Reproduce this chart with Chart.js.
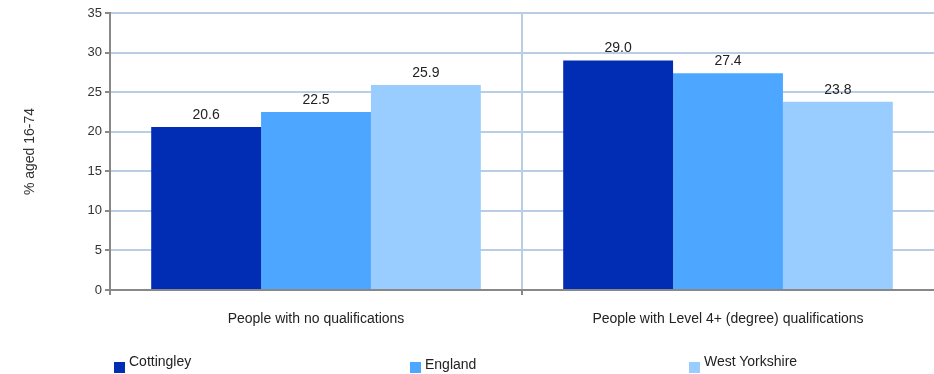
<!DOCTYPE html>
<html>
<head>
<meta charset="utf-8">
<script src="https://cdn.jsdelivr.net/npm/chart.js@4"></script>
<style>
  body { margin: 0; background: #fff; font-family: "Liberation Sans", Arial, sans-serif; }
  #wrap { position: relative; width: 934px; height: 374px; }
  .legend-item { position: absolute; font-size: 14px; color: #222; }
  .legend-box { position: absolute; width: 11px; height: 11px; }
</style>
</head>
<body>
<div id="wrap">
  <canvas id="chart" width="934" height="374"></canvas>
</div>
<script>
// Chart data
const categories = ['People with no qualifications', 'People with Level 4+ (degree) qualifications'];
const seriesNames = ['Cottingley', 'England', 'West Yorkshire'];
const seriesColors = ['#002db3', '#4da6ff', '#99ccff'];
const cottingley = [20.6, 29.0];
const england = [22.5, 27.4];
const westYorkshire = [25.9, 23.8];
const yTicks = [0, 5, 10, 15, 20, 25, 30, 35];

// legend box left x in the page
const legendX = [114, 410, 689];

const seriesValues = [cottingley, england, westYorkshire];
const FONT = '"Liberation Sans", Arial, sans-serif';

// Value labels above bars
const valueLabels = {
    id: 'valueLabels',
    afterDatasetsDraw(chart) {
        const ctx = chart.ctx;
        ctx.save();
        ctx.font = '14px ' + FONT;
        ctx.fillStyle = '#222';
        ctx.textAlign = 'center';
        ctx.textBaseline = 'alphabetic';
        chart.data.datasets.forEach((ds, i) => {
            chart.getDatasetMeta(i).data.forEach((bar, j) => {
                ctx.fillText(ds.data[j].toFixed(1), bar.x, bar.y - 8);
            });
        });
        ctx.restore();
    }
};

// hide the extra vertical grid line at the right edge (it has no tick context)
function xGridColor(c) {
    return c.type === 'tick' ? '#b9cde5' : 'rgba(0,0,0,0)';
}
function xTickColor(c) {
    return c.type === 'tick' ? '#888' : 'rgba(0,0,0,0)';
}

const ctx = document.getElementById('chart').getContext('2d');
const chart = new Chart(ctx, {
    type: 'bar',
    data: {
        labels: categories,
        datasets: seriesNames.map((name, i) => ({
            label: name,
            data: seriesValues[i],
            backgroundColor: seriesColors[i],
            categoryPercentage: 0.8,
            barPercentage: 1.0,
            borderWidth: 0
        }))
    },
    options: {
        responsive: false,
        animation: false,
        layout: {
            padding: { top: 13, right: 0, bottom: 34, left: 22 }
        },
        plugins: {
            legend: { display: false },
            tooltip: { enabled: false }
        },
        scales: {
            x: {
                offset: true,
                grid: {
                    offset: true,
                    color: xGridColor,
                    lineWidth: 2,
                    tickColor: xTickColor,
                    tickLength: 5
                },
                border: { color: '#888', width: 2 },
                ticks: {
                    color: '#222',
                    padding: 16,
                    font: { family: FONT, size: 14 }
                },
                afterFit(scale) { scale.height = 50; }
            },
            y: {
                min: 0,
                max: 35,
                afterBuildTicks(scale) {
                    scale.ticks = yTicks.map(v => ({ value: v }));
                },
                grid: {
                    color: '#b9cde5',
                    lineWidth: 2,
                    tickColor: '#888',
                    tickLength: 5
                },
                border: { color: '#888', width: 2 },
                ticks: {
                    color: '#333',
                    padding: 3,
                    font: { family: FONT, size: 13 }
                },
                title: {
                    display: true,
                    text: '% aged 16-74',
                    color: '#333',
                    padding: { top: 0, bottom: 0 },
                    font: { family: FONT, size: 14 }
                },
                afterFit(scale) { scale.width = 88; }
            }
        }
    },
    plugins: [valueLabels]
});

// HTML legend
const wrap = document.getElementById('wrap');
seriesNames.forEach((name, i) => {
    const box = document.createElement('div');
    box.className = 'legend-box';
    box.style.left = legendX[i] + 'px';
    box.style.top = '362px';
    box.style.background = seriesColors[i];
    wrap.appendChild(box);
    const label = document.createElement('div');
    label.className = 'legend-item';
    label.style.left = (legendX[i] + 15) + 'px';
    label.style.top = (i === 1 ? 356 : 353) + 'px';
    label.textContent = name;
    wrap.appendChild(label);
});
</script>
</body>
</html>
